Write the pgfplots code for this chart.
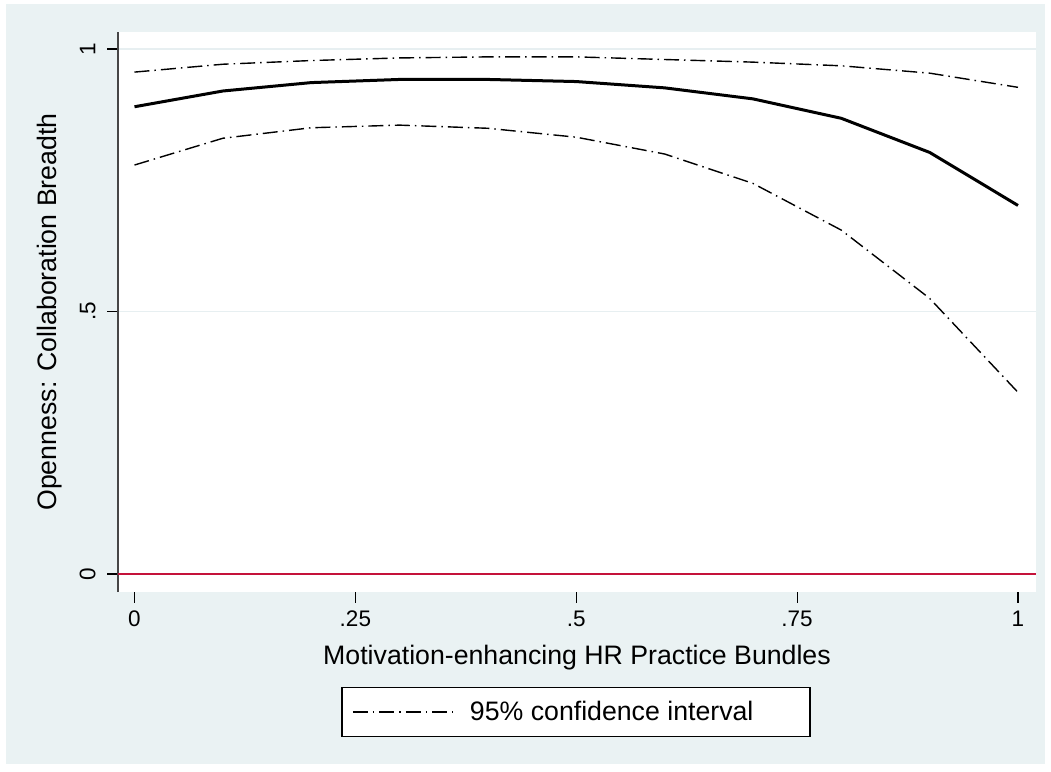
\documentclass[border=0pt]{standalone}
\usepackage{fontspec}
\setmainfont{Liberation Sans}
\usepackage{pgfplots}
\pgfplotsset{compat=1.18}
\definecolor{bgc}{RGB}{234,242,243}
\definecolor{gridc}{RGB}{231,239,241}
\definecolor{zeroc}{RGB}{196,18,58}
\definecolor{axc}{RGB}{70,70,70}
\pgfplotstableread{
x mid upper lower
0.0 0.890 0.956 0.779
0.1 0.920 0.971 0.830
0.2 0.936 0.978 0.850
0.3 0.942 0.983 0.855
0.4 0.942 0.985 0.849
0.5 0.938 0.985 0.832
0.6 0.926 0.980 0.800
0.7 0.905 0.975 0.744
0.8 0.868 0.968 0.655
0.9 0.803 0.954 0.525
1.0 0.702 0.927 0.346
}\datatable
\begin{document}
\begin{tikzpicture}[x=1pt,y=1pt]
\path[use as bounding box] (0,0) rectangle (1051,771);
\fill[bgc] (6,7) rectangle (1045,767);
\begin{axis}[
  at={(118pt,179pt)}, anchor=south west,
  scale only axis, width=918pt, height=560pt,
  xmin=-0.01868, xmax=1.0204, ymin=-0.0343, ymax=1.0324,
  axis background/.style={fill=white},
  separate axis lines,
  axis x line*=bottom, axis y line*=left,
  x axis line style={draw=none},
  y axis line style={draw=axc, line width=1.3pt, -},
  tick align=outside, major tick length=11pt,
  tick style={black, line width=1.2pt},
  xtick={0,0.25,0.5,0.75,1}, xticklabels={0,.25,.5,.75,1},
  ytick={0,0.5,1}, yticklabels={0,.5,1},
  ymajorgrids, major grid style={gridc, line width=1.6pt},
  /pgf/number format/assume math mode=true,
  ticklabel style={font=\fontsize{22.5}{27}\selectfont},
  yticklabel style={rotate=90, anchor=south, yshift=8pt},
  xticklabel style={anchor=north, yshift=-4pt},
  label style={font=\fontsize{26.7}{32}\selectfont},
  xlabel={Motivation-enhancing HR Practice Bundles},
  ylabel={Openness: Collaboration Breadth},
  xlabel style={at={(axis description cs:0.5,-0.1179)}, anchor=center},
  ylabel style={at={(axis description cs:-0.0741,0.5)}, anchor=center},
  legend style={at={(axis description cs:0.4989,-0.2143)}, anchor=center,
    draw=black, line width=1.2pt, fill=white, inner xsep=0pt, inner ysep=0pt,
    nodes={inner sep=0pt}, column sep=0pt,
    font=\fontsize{26.7}{32}\selectfont},
  legend image code/.code={\path[draw=none,fill=none] (0pt,-24.5pt) rectangle (128pt,24.5pt);
    \draw[#1] (11pt,0pt) -- (111pt,0pt);},
]
\addplot[zeroc, line width=2.4pt, forget plot] coordinates {(-0.01868,0) (1.0204,0)};
\addplot[black, line width=3pt, forget plot] table[x=x, y=mid] {\datatable};
\addplot[black, line width=1.4pt, dash pattern=on 15pt off 5pt on 1.5pt off 5pt] table[x=x, y=upper] {\datatable};
\addlegendentry{\makebox[340pt][l]{95\% confidence interval}}
\addplot[black, line width=1.4pt, dash pattern=on 15pt off 5pt on 1.5pt off 5pt, forget plot] table[x=x, y=lower] {\datatable};
\end{axis}
\end{tikzpicture}
\end{document}
